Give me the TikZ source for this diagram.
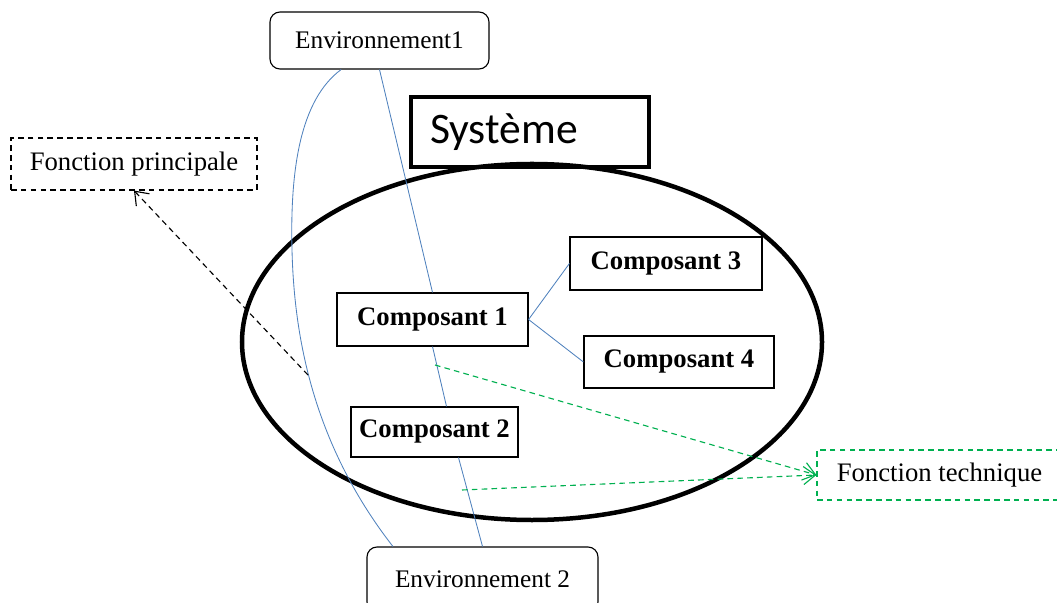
\documentclass[tikz,border=0pt]{standalone}
\usepackage{fontspec}
\setmainfont{Liberation Serif}
\newfontfamily\calibrifont{Carlito}
\usetikzlibrary{arrows.meta}
\definecolor{wireblue}{RGB}{79,129,189}
\definecolor{techgreen}{RGB}{0,176,80}

\begin{document}
\begin{tikzpicture}[x=0.25mm, y=-0.25mm,
        comp/.style={draw, line width=0.8pt, inner sep=0pt, font=\fontsize{19}{22}\selectfont\bfseries},
        env/.style={draw, rounded corners=2.5mm, line width=0.8pt, inner sep=0pt, font=\fontsize{18}{21}\selectfont},
        fonc/.style={draw, dash pattern=on 4pt off 3pt, line width=0.8pt, inner sep=0pt, font=\fontsize{19}{22}\selectfont},
        wire/.style={wireblue, line width=0.6pt},
        tip/.style={-{Straight Barb[length=3mm, width=4.5mm]}, dash pattern=on 4pt off 3pt, line width=0.8pt}]
        \useasboundingbox (0, 0) rectangle (1057, 603);

        \draw[line width=3.2pt] (532, 342) ellipse [x radius=72.5mm, y radius=44.5mm];

        \node[draw, line width=3.5pt, minimum height=17.5mm, text width=50mm, inner xsep=4.75mm, align=left,
            font=\calibrifont\fontsize{31}{35}\selectfont] (sys) at (530, 132) {Système};

        \node[env, minimum width=54.75mm, minimum height=14.25mm] (env1) at (379.5, 40.5) {Environnement1};
        \node[env, minimum width=57.75mm, minimum height=16.25mm] (env2) at (482.5, 579.5) {Environnement 2};

        \node[comp, minimum width=47.75mm, minimum height=13.25mm] (c1) at (432.5, 319.5) {Composant 1};
        \node[comp, minimum width=41.75mm, minimum height=12.5mm] (c2) at (434.5, 432) {Composant 2};
        \node[comp, minimum width=48mm, minimum height=13.25mm] (c3) at (666, 263.5) {Composant 3};
        \node[comp, minimum width=47.5mm, minimum height=13mm] (c4) at (679, 362) {Composant 4};

        \node[fonc, minimum width=61.5mm, minimum height=13mm] (fp) at (134, 164) {Fonction principale};
        \node[fonc, techgreen, text=black, minimum width=61.25mm, minimum height=12.5mm] (ft) at (939.5, 475) {Fonction technique};

        \draw[wire] (env1.south) -- (c1.north);
        \draw[wire] (c1.south) -- ([xshift=3mm]c2.north);
        \draw[wire] ([xshift=6mm]c2.south) -- (env2.north);
        \draw[wire] (c1.east) -- (c3.west);
        \draw[wire] (c1.east) -- (c4.west);
        \draw[wire] ([xshift=-9.6mm]env1.south) .. controls (300, 100) and (290, 170) .. (292, 250)
            .. controls (294, 330) and (310, 440) .. ([xshift=-22.4mm]env2.north);

        \coordinate (fpfrom) at (308, 375);
        \coordinate (ftone) at (435, 365);
        \coordinate (fttwo) at (462, 490);
        \draw[tip] (fpfrom) -- (fp.south);
        \draw[tip, techgreen] (ftone) -- (ft.west);
        \draw[tip, techgreen] (fttwo) -- (ft.west);
    \end{tikzpicture}
\end{document}
